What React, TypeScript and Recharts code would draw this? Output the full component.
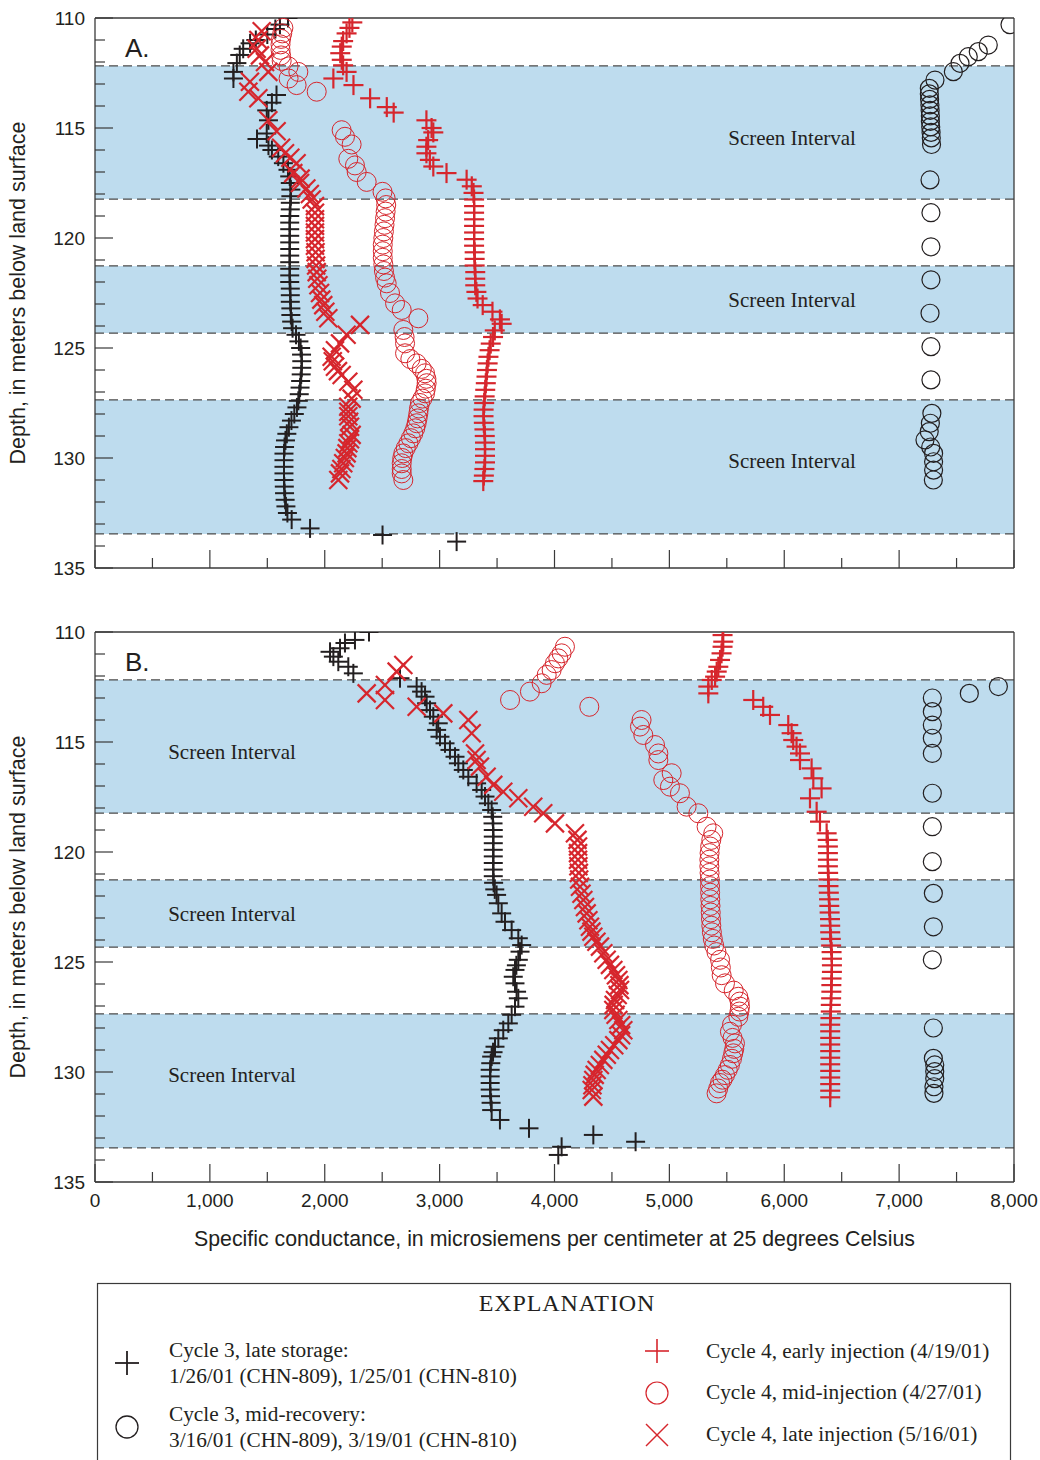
import React from 'react';
import {
  ScatterChart,
  Scatter,
  XAxis,
  YAxis,
  ReferenceArea,
  ReferenceLine,
  ReferenceDot,
} from 'recharts';

const RED = '#d6262d';
const INK = '#231f20';
const AXIS = '#3a3a3a';
const BAND_FILL = '#bedcee';
const SANS = '"Liberation Sans", Arial, Helvetica, sans-serif';
const SERIF = '"Liberation Serif", "Times New Roman", Times, serif';

// Axis ticks
const conductanceTicks = [
  0, 500, 1000, 1500, 2000, 2500, 3000, 3500, 4000, 4500, 5000, 5500, 6000, 6500, 7000, 7500, 8000,
];
const depthTicks = [
  110, 111, 112, 113, 114, 115, 116, 117, 118, 119, 120, 121, 122, 123, 124, 125, 126, 127, 128,
  129, 130, 131, 132, 133, 134, 135,
];

// Screened intervals of the well (depth, m)
const screenTop = [112.18, 121.27, 127.36];
const screenBottom = [118.23, 124.32, 133.45];
const screenLabelDepth = [115.45, 122.8, 130.15];

// ---- Panel A (CHN-809): [specific conductance, depth] ----
const aStorage = [
  [1680, 110.0], [1610, 110.3], [1570, 110.5], [1500, 110.75], [1400, 111.0], [1350, 111.15],
  [1290, 111.4], [1260, 111.68], [1235, 112.05], [1205, 112.45], [1205, 112.75],
  [1580, 113.5], [1540, 113.85], [1495, 114.2], [1510, 114.65], [1495, 115.25], [1410, 115.5],
  [1510, 115.8], [1540, 116.0], [1595, 116.3], [1640, 116.6], [1680, 116.9], [1695, 117.2],
  [1700, 117.5], [1705, 117.8], [1705, 118.1], [1700, 118.4], [1700, 118.7], [1695, 119.0],
  [1695, 119.3], [1695, 119.6], [1695, 119.9], [1695, 120.2], [1695, 120.5], [1695, 120.8],
  [1695, 121.1], [1695, 121.4], [1695, 121.7], [1695, 122.0], [1700, 122.3], [1700, 122.6],
  [1700, 122.9], [1705, 123.2], [1705, 123.5], [1712, 123.8], [1720, 124.1], [1750, 124.4],
  [1775, 124.7], [1790, 125.0], [1798, 125.3], [1800, 125.6], [1800, 125.9], [1795, 126.2],
  [1790, 126.5], [1785, 126.8], [1778, 127.1], [1770, 127.4], [1758, 127.7], [1735, 128.0],
  [1710, 128.3], [1688, 128.6], [1670, 128.9], [1658, 129.2], [1650, 129.5], [1645, 129.8],
  [1645, 130.1], [1645, 130.4], [1645, 130.7], [1645, 131.0], [1648, 131.3], [1650, 131.6],
  [1655, 131.9], [1662, 132.2], [1675, 132.5], [1712, 132.8], [1872, 133.2], [2503, 133.5],
  [3148, 133.8],
];

const aRecovery = [
  [7965, 110.3], [7776, 111.23], [7689, 111.53], [7602, 111.76], [7530, 112.06], [7472, 112.44],
  [7312, 112.82], [7263, 113.2], [7263, 113.45], [7265, 113.7], [7268, 113.95], [7270, 114.2],
  [7272, 114.45], [7272, 114.7], [7275, 114.95], [7278, 115.2], [7280, 115.45], [7282, 115.75],
  [7269, 117.36], [7277, 118.85], [7277, 120.4], [7277, 121.9], [7269, 123.42], [7277, 124.94],
  [7277, 126.45], [7285, 127.97], [7272, 128.42], [7262, 128.8], [7225, 129.18], [7275, 129.5],
  [7300, 129.79], [7300, 130.17], [7300, 130.55], [7298, 131.0],
];

const aEarly = [
  [2240, 110.2], [2215, 110.45], [2190, 110.7], [2160, 111.05], [2148, 111.3], [2135, 111.6],
  [2148, 111.9], [2160, 112.15], [2190, 112.45], [2075, 112.75], [2250, 113.05], [2395, 113.65],
  [2540, 114.05], [2600, 114.3], [2885, 114.65], [2930, 115.0], [2945, 115.2], [2900, 115.55],
  [2885, 115.85], [2885, 116.15], [2915, 116.45], [2945, 116.75], [3060, 117.05], [3235, 117.35],
  [3280, 117.65], [3295, 117.95], [3300, 118.25], [3300, 118.55], [3300, 118.85], [3300, 119.15],
  [3300, 119.45], [3300, 119.75], [3300, 120.05], [3300, 120.35], [3305, 120.65], [3305, 120.95],
  [3305, 121.25], [3310, 121.55], [3310, 121.85], [3310, 122.15], [3320, 122.45], [3330, 122.75],
  [3375, 123.05], [3460, 123.35], [3525, 123.7], [3540, 123.9], [3480, 124.2], [3465, 124.5],
  [3445, 124.8], [3435, 125.1], [3425, 125.4], [3418, 125.7], [3412, 126.0], [3408, 126.3],
  [3402, 126.6], [3397, 126.9], [3392, 127.2], [3388, 127.5], [3383, 127.8], [3382, 128.1],
  [3385, 128.4], [3390, 128.7], [3393, 129.0], [3395, 129.3], [3395, 129.6], [3395, 129.9],
  [3395, 130.2], [3390, 130.5], [3385, 130.8], [3380, 131.05],
];

const aMid = [
  [1640, 110.45], [1630, 110.7], [1620, 110.95], [1615, 111.2], [1615, 111.45], [1620, 111.7],
  [1625, 111.95], [1685, 112.2], [1770, 112.45], [1685, 112.75], [1755, 113.05], [1930, 113.35],
  [2147, 115.1], [2176, 115.4], [2234, 115.75], [2205, 116.4], [2263, 116.7], [2278, 117.0],
  [2365, 117.45], [2503, 117.9], [2530, 118.2], [2535, 118.5], [2530, 118.8], [2525, 119.1],
  [2520, 119.4], [2515, 119.7], [2510, 120.0], [2505, 120.3], [2505, 120.6], [2505, 120.9],
  [2510, 121.2], [2515, 121.5], [2525, 121.8], [2539, 122.06], [2568, 122.5], [2612, 122.97],
  [2670, 123.27], [2815, 123.65], [2684, 124.18], [2695, 124.5], [2699, 124.79], [2699, 125.24],
  [2745, 125.5], [2800, 125.7], [2845, 125.95], [2873, 126.15], [2885, 126.4], [2887, 126.6],
  [2880, 126.85], [2873, 127.06], [2850, 127.3], [2829, 127.5], [2820, 127.75], [2815, 127.97],
  [2808, 128.2], [2800, 128.42], [2788, 128.65], [2771, 128.88], [2750, 129.1], [2728, 129.33],
  [2705, 129.55], [2684, 129.79], [2675, 130.0], [2670, 130.24], [2670, 130.5], [2670, 130.7],
  [2684, 131.0],
];

const aLate = [
  [1451, 110.6], [1422, 111.0], [1407, 111.4], [1436, 111.7], [1480, 112.0], [1509, 112.45],
  [1349, 112.9], [1335, 113.35], [1422, 113.65], [1509, 114.65], [1581, 115.15], [1620, 115.9],
  [1654, 116.15], [1700, 116.35], [1755, 116.6], [1726, 117.05], [1790, 117.3], [1785, 117.5],
  [1840, 117.75], [1870, 118.0], [1886, 118.25], [1915, 118.55], [1915, 118.85], [1915, 119.15],
  [1915, 119.45], [1915, 119.75], [1915, 120.05], [1915, 120.35], [1920, 120.65], [1920, 120.95],
  [1925, 121.25], [1930, 121.55], [1935, 121.85], [1945, 122.15], [1959, 122.5], [1970, 122.8],
  [1987, 123.05], [2005, 123.35], [2031, 123.65], [2307, 123.95], [2190, 124.4], [2133, 124.79],
  [2089, 125.1], [2060, 125.4], [2070, 125.6], [2089, 125.85], [2115, 126.05], [2147, 126.23],
  [2205, 126.53], [2249, 126.9], [2234, 127.3], [2205, 127.67], [2205, 127.9], [2205, 128.1],
  [2212, 128.35], [2220, 128.58], [2234, 128.95], [2220, 129.15], [2205, 129.33], [2197, 129.55],
  [2190, 129.79], [2175, 130.0], [2161, 130.24], [2145, 130.5], [2133, 130.7], [2118, 131.0],
];

// ---- Panel B (CHN-810): [specific conductance, depth] ----
const bStorage = [
  [2385, 110.0], [2263, 110.36], [2176, 110.5], [2133, 110.74], [2046, 110.9], [2075, 111.12],
  [2118, 111.35], [2205, 111.58], [2249, 111.88], [2655, 112.1], [2800, 112.48], [2843, 112.71],
  [2873, 112.94], [2887, 113.24], [2916, 113.55], [2945, 113.85], [2988, 114.15], [2974, 114.45],
  [3003, 114.76], [3047, 115.06], [3090, 115.36], [3134, 115.67], [3163, 115.97], [3206, 116.27],
  [3250, 116.58], [3322, 116.88], [3366, 117.18], [3395, 117.48], [3424, 117.79], [3453, 118.09],
  [3462, 118.4], [3465, 118.7], [3467, 119.0], [3467, 119.3], [3467, 119.6], [3467, 119.9],
  [3467, 120.2], [3467, 120.5], [3467, 120.8], [3467, 121.1], [3470, 121.4], [3480, 121.7],
  [3496, 121.95], [3511, 122.33], [3540, 122.79], [3569, 123.17], [3627, 123.55], [3685, 123.92],
  [3714, 124.23], [3700, 124.53], [3685, 124.9], [3668, 125.15], [3656, 125.36], [3641, 125.67],
  [3656, 125.97], [3670, 126.35], [3685, 126.65], [3656, 127.03], [3627, 127.4], [3598, 127.79],
  [3554, 128.1], [3511, 128.47], [3482, 128.85], [3465, 129.1], [3453, 129.3], [3445, 129.6],
  [3440, 129.9], [3440, 130.2], [3440, 130.5], [3440, 130.8], [3443, 131.1], [3448, 131.4],
  [3453, 131.73], [3525, 132.18], [3778, 132.56], [4338, 132.86], [4706, 133.17], [4062, 133.4],
  [4033, 133.77],
];

const bRecovery = [
  [7864, 112.48], [7611, 112.79], [7289, 113.0], [7289, 113.62], [7289, 114.23], [7289, 114.83],
  [7289, 115.52], [7289, 117.33], [7289, 118.85], [7289, 120.44], [7298, 121.88], [7298, 123.4],
  [7289, 124.9], [7298, 128.0], [7298, 129.38], [7310, 129.68], [7310, 129.98], [7310, 130.3],
  [7303, 130.67], [7303, 130.97],
];

const bEarly = [
  [5463, 110.14], [5469, 110.44], [5463, 110.67], [5454, 110.97], [5441, 111.27], [5426, 111.58],
  [5412, 111.8], [5398, 112.03], [5369, 112.18], [5339, 112.48], [5339, 112.79], [5730, 113.09],
  [5817, 113.4], [5876, 113.77], [6035, 114.23], [6064, 114.6], [6078, 114.91], [6107, 115.21],
  [6137, 115.52], [6137, 115.82], [6238, 116.2], [6253, 116.65], [6325, 117.11], [6224, 117.56],
  [6282, 118.17], [6311, 118.62], [6369, 119.15], [6378, 119.45], [6380, 119.75], [6380, 120.05],
  [6380, 120.35], [6380, 120.65], [6382, 120.95], [6385, 121.25], [6385, 121.55], [6388, 121.85],
  [6390, 122.15], [6392, 122.45], [6395, 122.75], [6398, 123.05], [6400, 123.35], [6400, 123.65],
  [6405, 123.95], [6408, 124.25], [6412, 124.55], [6415, 124.85], [6415, 125.15], [6415, 125.45],
  [6412, 125.75], [6410, 126.05], [6410, 126.35], [6408, 126.65], [6405, 126.95], [6405, 127.25],
  [6402, 127.55], [6400, 127.85], [6400, 128.15], [6400, 128.45], [6400, 128.75], [6400, 129.05],
  [6400, 129.35], [6400, 129.65], [6400, 129.95], [6400, 130.25], [6400, 130.55], [6400, 130.85],
  [6400, 131.15],
];

const bMid = [
  [4091, 110.67], [4062, 110.97], [4033, 111.2], [4004, 111.42], [3975, 111.73], [3932, 111.95],
  [3888, 112.33], [3786, 112.71], [3613, 113.09], [4303, 113.4], [4758, 114.0], [4744, 114.3],
  [4773, 114.68], [4875, 115.14], [4904, 115.52], [4904, 115.82], [5020, 116.42], [4947, 116.73],
  [5005, 117.03], [5092, 117.33], [5150, 117.94], [5252, 118.24], [5324, 118.85], [5382, 119.15],
  [5365, 119.45], [5355, 119.75], [5350, 120.05], [5348, 120.35], [5348, 120.65], [5350, 120.95],
  [5352, 121.25], [5354, 121.55], [5355, 121.85], [5356, 122.15], [5358, 122.45], [5360, 122.75],
  [5362, 123.05], [5365, 123.35], [5370, 123.65], [5378, 123.95], [5390, 124.25], [5410, 124.55],
  [5441, 124.9], [5448, 125.25], [5455, 125.6], [5484, 125.97], [5560, 126.3], [5600, 126.58],
  [5612, 126.8], [5615, 127.03], [5610, 127.25], [5600, 127.49], [5545, 127.85], [5527, 128.17],
  [5550, 128.45], [5571, 128.7], [5565, 128.95], [5556, 129.15], [5545, 129.4], [5527, 129.68],
  [5508, 129.9], [5484, 130.14], [5462, 130.35], [5441, 130.5], [5425, 130.75], [5411, 130.97],
];

const bLate = [
  [2684, 111.5], [2626, 111.8], [2524, 112.41], [2365, 112.79], [2524, 113.09], [2800, 113.4],
  [3032, 113.7], [3250, 114.0], [3279, 114.6], [3308, 115.52], [3322, 115.82], [3351, 116.12],
  [3409, 116.58], [3467, 116.95], [3554, 117.26], [3685, 117.56], [3815, 117.94], [3902, 118.24],
  [4004, 118.7], [4178, 119.15], [4200, 119.45], [4205, 119.75], [4205, 120.05], [4205, 120.35],
  [4208, 120.65], [4212, 120.95], [4215, 121.25], [4222, 121.58], [4235, 121.9], [4251, 122.18],
  [4265, 122.5], [4280, 122.79], [4295, 123.1], [4309, 123.4], [4322, 123.62], [4338, 123.85],
  [4365, 124.08], [4396, 124.3], [4425, 124.6], [4454, 124.9], [4483, 125.13], [4512, 125.36],
  [4535, 125.6], [4556, 125.82], [4565, 126.05], [4570, 126.27], [4550, 126.5], [4527, 126.73],
  [4515, 126.95], [4512, 127.18], [4532, 127.4], [4556, 127.64], [4580, 127.87], [4599, 128.1],
  [4580, 128.33], [4556, 128.55], [4520, 128.78], [4483, 129.0], [4455, 129.22], [4425, 129.45],
  [4395, 129.68], [4367, 129.91], [4350, 130.13], [4338, 130.36], [4330, 130.6], [4324, 130.82],
  [4338, 131.12],
];

const toPoints = (rows: number[][]) => rows.map(([sc, depth]) => ({ sc, depth }));

// ---- Marker shapes ----
const plusShape = (color: string, arm: number, width: number) => (p: any) => {
  const { cx, cy } = p;
  if (cx == null || cy == null) return <g />;
  return (
    <g stroke={color} strokeWidth={width} fill="none">
      <line x1={cx - arm} y1={cy} x2={cx + arm} y2={cy} />
      <line x1={cx} y1={cy - arm} x2={cx} y2={cy + arm} />
    </g>
  );
};

const crossShape = (color: string, arm: number, width: number) => (p: any) => {
  const { cx, cy } = p;
  if (cx == null || cy == null) return <g />;
  return (
    <g stroke={color} strokeWidth={width} fill="none">
      <line x1={cx - arm} y1={cy - arm} x2={cx + arm} y2={cy + arm} />
      <line x1={cx - arm} y1={cy + arm} x2={cx + arm} y2={cy - arm} />
    </g>
  );
};

const ringShape = (color: string, r: number, width: number) => (p: any) => {
  const { cx, cy } = p;
  if (cx == null || cy == null) return <g />;
  return <circle cx={cx} cy={cy} r={r} fill="none" stroke={color} strokeWidth={width} />;
};

// ---- Axis tick renderers (ticks point into the plot) ----
const MAJOR = 18;
const MINOR = 10;

const LeftTick = (p: any) => {
  const { x, y, payload } = p;
  const major = payload.value % 5 === 0;
  return (
    <g>
      <line x1={x} y1={y} x2={x + (major ? MAJOR : MINOR)} y2={y} stroke={AXIS} strokeWidth={1.2} />
      {major && (
        <text x={x - 10} y={y + 6.8} textAnchor="end" fontFamily={SANS} fontSize={19} fill={INK}>
          {payload.value}
        </text>
      )}
    </g>
  );
};

const RightTick = (p: any) => {
  const { x, y, payload } = p;
  const major = payload.value % 5 === 0;
  return <line x1={x} y1={y} x2={x - (major ? MAJOR : MINOR)} y2={y} stroke={AXIS} strokeWidth={1.2} />;
};

const TopTick = (p: any) => {
  const { x, y, payload } = p;
  const major = payload.value % 1000 === 0;
  return <line x1={x} y1={y} x2={x} y2={y + (major ? MAJOR : MINOR)} stroke={AXIS} strokeWidth={1.2} />;
};

const makeBottomTick = (showLabels: boolean) => (p: any) => {
  const { x, y, payload } = p;
  const major = payload.value % 1000 === 0;
  return (
    <g>
      <line x1={x} y1={y} x2={x} y2={y - (major ? MAJOR : MINOR)} stroke={AXIS} strokeWidth={1.2} />
      {showLabels && major && (
        <text x={x} y={y + 25} textAnchor="middle" fontFamily={SANS} fontSize={19} fill={INK}>
          {payload.value.toLocaleString('en-US')}
        </text>
      )}
    </g>
  );
};

const DepthTitle = (p: any) => {
  const vb = p.viewBox;
  const cx = vb.x + 18;
  const cy = vb.y + vb.height / 2;
  return (
    <text
      x={cx}
      y={cy}
      transform={`rotate(-90 ${cx} ${cy})`}
      textAnchor="middle"
      dominantBaseline="central"
      fontFamily={SANS}
      fontSize={21.5}
      fill={INK}
    >
      Depth, in meters below land surface
    </text>
  );
};

const ConductanceTitle = (p: any) => {
  const vb = p.viewBox;
  return (
    <text
      x={vb.x + vb.width / 2}
      y={vb.y + 64}
      textAnchor="middle"
      fontFamily={SANS}
      fontSize={21.3}
      fill={INK}
    >
      Specific conductance, in microsiemens per centimeter at 25 degrees Celsius
    </text>
  );
};

const axisLineStyle = { stroke: AXIS, strokeWidth: 1.3 };

type PanelProps = {
  letter: string;
  height: number;
  margin: { top: number; right: number; bottom: number; left: number };
  bottomAxisHeight: number;
  showXLabels: boolean;
  screenLabelSc: number;
  storage: number[][];
  recovery: number[][];
  early: number[][];
  mid: number[][];
  late: number[][];
};

function Panel(props: PanelProps) {
  const { letter, height, margin, bottomAxisHeight, showXLabels, screenLabelSc } = props;
  return (
    <ScatterChart width={1040} height={height} margin={margin}>
      <XAxis
        xAxisId="b"
        type="number"
        dataKey="sc"
        domain={[0, 8000]}
        ticks={conductanceTicks}
        interval={0}
        tickLine={false}
        tickSize={0}
        tickMargin={0}
        height={bottomAxisHeight}
        axisLine={axisLineStyle}
        tick={makeBottomTick(showXLabels)}
        label={showXLabels ? { content: ConductanceTitle } : undefined}
        allowDataOverflow
      />
      <XAxis
        xAxisId="t"
        orientation="top"
        type="number"
        domain={[0, 8000]}
        ticks={conductanceTicks}
        interval={0}
        tickLine={false}
        tickSize={0}
        tickMargin={0}
        height={1}
        axisLine={axisLineStyle}
        tick={TopTick}
      />
      <YAxis
        yAxisId="l"
        type="number"
        dataKey="depth"
        domain={[110, 135]}
        reversed
        ticks={depthTicks}
        interval={0}
        tickLine={false}
        tickSize={0}
        tickMargin={0}
        width={95}
        axisLine={axisLineStyle}
        tick={LeftTick}
        label={{ content: DepthTitle }}
        allowDataOverflow
      />
      <YAxis
        yAxisId="r"
        orientation="right"
        type="number"
        domain={[110, 135]}
        reversed
        ticks={depthTicks}
        interval={0}
        tickLine={false}
        tickSize={0}
        tickMargin={0}
        width={1}
        axisLine={axisLineStyle}
        tick={RightTick}
      />

      {screenTop.map((top, i) => (
        <ReferenceArea
          key={`band-${i}`}
          xAxisId="b"
          yAxisId="l"
          y1={top}
          y2={screenBottom[i]}
          fill={BAND_FILL}
          fillOpacity={1}
          stroke="none"
        />
      ))}
      {[...screenTop, ...screenBottom].map((d, i) => (
        <ReferenceLine
          key={`edge-${i}`}
          xAxisId="b"
          yAxisId="l"
          y={d}
          stroke="#4a4a4a"
          strokeWidth={1.2}
          strokeDasharray="9 5"
        />
      ))}
      {screenLabelDepth.map((d, i) => (
        <ReferenceDot
          key={`screen-${i}`}
          xAxisId="b"
          yAxisId="l"
          x={screenLabelSc}
          y={d}
          r={0}
          fill="none"
          stroke="none"
          label={{
            content: (lp: any) => {
              const vb = lp.viewBox;
              return (
                <text
                  x={vb.x + vb.width / 2}
                  y={vb.y + vb.height / 2 + 7}
                  textAnchor="middle"
                  fontFamily={SERIF}
                  fontSize={21}
                  fill={INK}
                >
                  Screen Interval
                </text>
              );
            },
          }}
        />
      ))}
      <ReferenceDot
        xAxisId="b"
        yAxisId="l"
        x={261}
        y={111.36}
        r={0}
        fill="none"
        stroke="none"
        label={{
          content: (lp: any) => {
            const vb = lp.viewBox;
            return (
              <text x={vb.x} y={vb.y + 9.5} fontFamily={SANS} fontSize={26} fill={INK}>
                {letter}
              </text>
            );
          },
        }}
      />

      <Scatter
        name="Cycle 3, mid-recovery"
        xAxisId="b"
        yAxisId="l"
        data={toPoints(props.recovery)}
        shape={ringShape(INK, 9, 1.2)}
        isAnimationActive={false}
      />
      <Scatter
        name="Cycle 3, late storage"
        xAxisId="b"
        yAxisId="l"
        data={toPoints(props.storage)}
        shape={plusShape(INK, 9.5, 2)}
        isAnimationActive={false}
      />
      <Scatter
        name="Cycle 4, mid-injection"
        xAxisId="b"
        yAxisId="l"
        data={toPoints(props.mid)}
        shape={ringShape(RED, 9.5, 1)}
        isAnimationActive={false}
      />
      <Scatter
        name="Cycle 4, early injection"
        xAxisId="b"
        yAxisId="l"
        data={toPoints(props.early)}
        shape={plusShape(RED, 10, 2.2)}
        isAnimationActive={false}
      />
      <Scatter
        name="Cycle 4, late injection"
        xAxisId="b"
        yAxisId="l"
        data={toPoints(props.late)}
        shape={crossShape(RED, 9, 2.2)}
        isAnimationActive={false}
      />
    </ScatterChart>
  );
}

function Explanation() {
  const text = { fontFamily: SERIF, fontSize: 21.3, fill: INK } as const;
  return (
    <svg width={1040} height={190} style={{ position: 'absolute', left: 0, top: 1270 }}>
      <rect x={97.5} y={13.5} width={913} height={220} fill="none" stroke={AXIS} strokeWidth={1.2} />
      <text x={567} y={41} textAnchor="middle" {...text} fontSize={24} letterSpacing={0.9}>
        EXPLANATION
      </text>

      {plusShape(INK, 12, 1.8)({ cx: 127, cy: 93 })}
      <text x={169} y={87} {...text}>Cycle 3, late storage:</text>
      <text x={169} y={113} {...text}>1/26/01 (CHN-809), 1/25/01 (CHN-810)</text>

      {ringShape(INK, 11, 1.3)({ cx: 127, cy: 157 })}
      <text x={169} y={151} {...text}>Cycle 3, mid-recovery:</text>
      <text x={169} y={177} {...text}>3/16/01 (CHN-809), 3/19/01 (CHN-810)</text>

      {plusShape(RED, 12, 1.6)({ cx: 657, cy: 81 })}
      <text x={706} y={88} {...text}>Cycle 4, early injection (4/19/01)</text>

      {ringShape(RED, 11, 1.2)({ cx: 657, cy: 123 })}
      <text x={706} y={129} {...text}>Cycle 4, mid-injection (4/27/01)</text>

      {crossShape(RED, 11, 1.4)({ cx: 657, cy: 165 })}
      <text x={706} y={171} {...text}>Cycle 4, late injection (5/16/01)</text>
    </svg>
  );
}

export default function App() {
  return (
    <div
      style={{
        position: 'absolute',
        left: 0,
        top: 0,
        width: 1040,
        height: 1460,
        background: '#ffffff',
        overflow: 'hidden',
      }}
    >
      <div style={{ position: 'absolute', left: 0, top: 0 }}>
        <Panel
          letter="A."
          height={590}
          margin={{ top: 17, right: 25, bottom: 21, left: 0 }}
          bottomAxisHeight={1}
          showXLabels={false}
          screenLabelSc={6068}
          storage={aStorage}
          recovery={aRecovery}
          early={aEarly}
          mid={aMid}
          late={aLate}
        />
      </div>
      <div style={{ position: 'absolute', left: 0, top: 600 }}>
        <Panel
          letter="B."
          height={680}
          margin={{ top: 31, right: 25, bottom: 18, left: 0 }}
          bottomAxisHeight={80}
          showXLabels
          screenLabelSc={1193}
          storage={bStorage}
          recovery={bRecovery}
          early={bEarly}
          mid={bMid}
          late={bLate}
        />
      </div>
      <Explanation />
    </div>
  );
}
